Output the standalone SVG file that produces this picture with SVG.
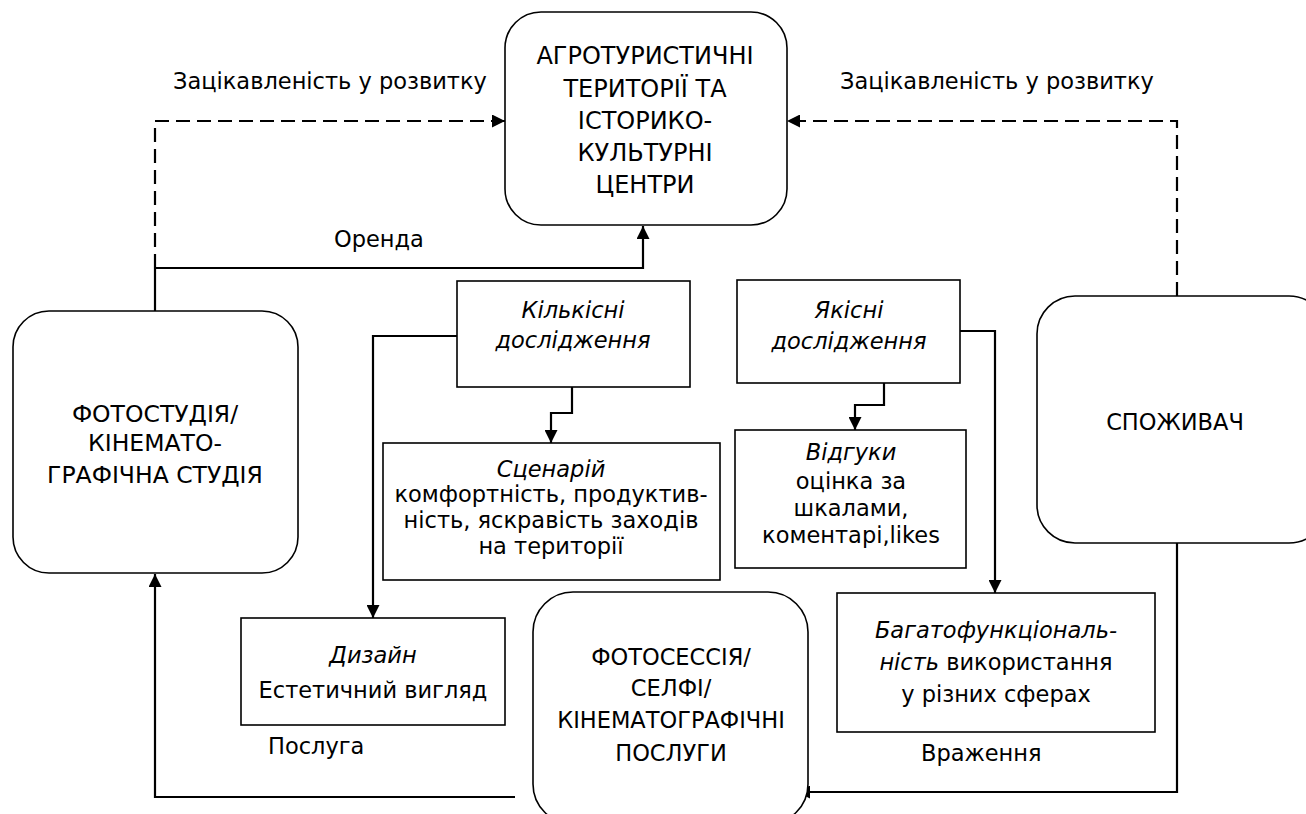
<svg xmlns="http://www.w3.org/2000/svg" width="1306" height="814" viewBox="0 0 1306 814">
<style>
text{font-family:"DejaVu Sans",sans-serif;font-size:22.5px;fill:#000;text-anchor:middle}
.it{font-style:italic}
.big{font-size:24px}
.mid{font-size:23.5px}
.node{fill:#fff;stroke:#000;stroke-width:1.6}
.con{fill:none;stroke:#000;stroke-width:2.2}
.dash{stroke-dasharray:14 7}
.lbl{text-anchor:start}
</style>
<defs>
<marker id="ah" viewBox="0 0 13 13" refX="13" refY="6.5" markerWidth="13" markerHeight="13" markerUnits="userSpaceOnUse" orient="auto">
<path d="M0,0 L13,6.5 L0,13 Z" fill="#000"/>
</marker>
</defs>
<rect width="1306" height="814" fill="#fff"/>
<g id="connectors">
<path class="con dash" d="M155,268 V121 H505" marker-end="url(#ah)"/>
<path class="con" d="M155,311 V268"/>
<path class="con dash" d="M1177,296 V121 H787" marker-end="url(#ah)"/>
<path class="con" d="M155,268 H643 V226" marker-end="url(#ah)"/>
<path class="con" d="M457,336 H373 V618" marker-end="url(#ah)"/>
<path class="con" d="M572,387 V413 H551 V443" marker-end="url(#ah)"/>
<path class="con" d="M884,383 V405 H855 V430" marker-end="url(#ah)"/>
<path class="con" d="M960,331 H995 V593" marker-end="url(#ah)"/>
<path class="con" d="M515,797 H155 V574" marker-end="url(#ah)"/>
<path class="con" d="M1177,543 V792 H797" marker-end="url(#ah)"/>
<text class="lbl" x="173" y="89">Зацікавленість у розвитку</text>
<text class="lbl" x="840" y="89">Зацікавленість у розвитку</text>
<text class="lbl" x="334" y="247">Оренда</text>
<text class="lbl" x="268" y="754">Послуга</text>
<text class="lbl" x="921" y="761">Враження</text>
</g>
<g id="n-agro">
<rect class="node" x="505" y="12" width="282" height="213" rx="36"/>
<text class="big" x="645" y="64">АГРОТУРИСТИЧНІ</text>
<text class="big" x="645" y="97">ТЕРИТОРІЇ ТА</text>
<text class="big" x="645" y="129">ІСТОРИКО-</text>
<text class="big" x="645" y="161">КУЛЬТУРНІ</text>
<text class="big" x="645" y="193">ЦЕНТРИ</text>
</g>
<g id="n-studio">
<rect class="node" x="13" y="311" width="285" height="262" rx="36"/>
<text class="mid" x="155" y="422">ФОТОСТУДІЯ/</text>
<text class="mid" x="155" y="451">КІНЕМАТО-</text>
<text class="mid" x="155" y="483">ГРАФІЧНА СТУДІЯ</text>
</g>
<g id="n-consumer">
<rect class="node" x="1037" y="296" width="290" height="247" rx="38"/>
<text x="1175" y="430">СПОЖИВАЧ</text>
</g>
<g id="n-photo">
<rect class="node" x="533" y="592" width="275" height="232" rx="40"/>
<text x="671" y="665">ФОТОСЕССІЯ/</text>
<text x="671" y="696">СЕЛФІ/</text>
<text x="671" y="728">КІНЕМАТОГРАФІЧНІ</text>
<text x="671" y="761">ПОСЛУГИ</text>
</g>
<g id="n-quant">
<rect class="node" x="457" y="281" width="233" height="106"/>
<text class="it" x="573" y="318">Кількісні</text>
<text class="it" x="573" y="348">дослідження</text>
</g>
<g id="n-qual">
<rect class="node" x="737" y="280" width="223" height="103"/>
<text class="it" x="849" y="318">Якісні</text>
<text class="it" x="849" y="349">дослідження</text>
</g>
<g id="n-scenario">
<rect class="node" x="383" y="443" width="337" height="137"/>
<text class="it" x="551" y="477">Сценарій</text>
<text x="551" y="502">комфортність, продуктив-</text>
<text x="551" y="528">ність, яскравість заходів</text>
<text x="551" y="554">на території</text>
</g>
<g id="n-reviews">
<rect class="node" x="735" y="430" width="231" height="138"/>
<text class="it" x="851" y="460">Відгуки</text>
<text x="851" y="489">оцінка за</text>
<text x="851" y="516">шкалами,</text>
<text x="851" y="543">коментарі,likes</text>
</g>
<g id="n-design">
<rect class="node" x="241" y="618" width="264" height="107"/>
<text class="it" x="373" y="663">Дизайн</text>
<text x="373" y="698">Естетичний вигляд</text>
</g>
<g id="n-multi">
<rect class="node" x="837" y="593" width="318" height="139"/>
<text class="it" x="996" y="638">Багатофункціональ-</text>
<text x="996" y="670"><tspan class="it">ність</tspan> використання</text>
<text x="996" y="702">у різних сферах</text>
</g>
</svg>
